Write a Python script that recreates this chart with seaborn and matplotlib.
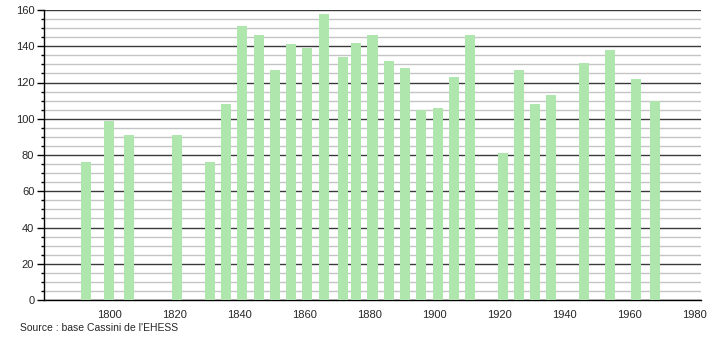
import matplotlib
matplotlib.use("Agg")
import matplotlib.pyplot as plt
import seaborn as sns
import pandas as pd
from matplotlib.ticker import MultipleLocator

years = [1793, 1800, 1806, 1821, 1831, 1836, 1841, 1846, 1851, 1856, 1861, 1866,
         1872, 1876, 1881, 1886, 1891, 1896, 1901, 1906, 1911, 1921, 1926, 1931,
         1936, 1946, 1954, 1962, 1968]
population = [76, 99, 91, 91, 76, 108, 151, 146, 127, 141, 139, 158,
              134, 142, 146, 132, 128, 105, 106, 123, 146, 81, 127, 108,
              113, 131, 138, 122, 110]
x_ticks = [1800, 1820, 1840, 1860, 1880, 1900, 1920, 1940, 1960, 1980]
source_text = "Source : base Cassini de l'EHESS"

sns.set_style("white")
plt.rcParams['font.family'] = ['Liberation Sans', 'DejaVu Sans']

df = pd.DataFrame({"year": years, "pop": population})

fig = plt.figure(figsize=(7.1, 3.4), dpi=100)
ax = fig.add_axes([44/710, 1 - 300/340, (701-44)/710, 290/340])

sns.barplot(data=df, x="year", y="pop", native_scale=True, width=0.77,
            color="#aee6ae", saturation=1, ax=ax, edgecolor="none", zorder=3)

ax.set_xlim(1780, 1982)
ax.set_ylim(0, 160)
ax.set_xticks(x_ticks)
ax.set_xticklabels([str(t) for t in x_ticks])
ax.yaxis.set_major_locator(MultipleLocator(20))
ax.yaxis.set_minor_locator(MultipleLocator(5))
ax.grid(which="major", axis="y", color="#3a3a3a", lw=1.0, zorder=0)
ax.grid(which="minor", axis="y", color="#c4c4c4", lw=1.0, zorder=0)
ax.grid(which="major", axis="x", visible=False)
ax.set_axisbelow(True)

for s in ["top", "right"]:
    ax.spines[s].set_visible(False)
ax.spines["left"].set_color("black")
ax.spines["bottom"].set_color("black")
ax.spines["left"].set_linewidth(1.0)
ax.spines["bottom"].set_linewidth(1.0)

ax.tick_params(axis="y", which="major", left=True, length=5, width=1, color="black",
               labelsize=8, pad=2)
ax.tick_params(axis="y", which="minor", left=True, length=2.5, width=1, color="black")
ax.tick_params(axis="x", which="both", bottom=False, labelsize=8, pad=4)
ax.set_xlabel("")
ax.set_ylabel("")

fig.text(20/710, 1 - 328/340, source_text, fontsize=7.5, va="center", ha="left")

fig.savefig("out.png", dpi=100)
